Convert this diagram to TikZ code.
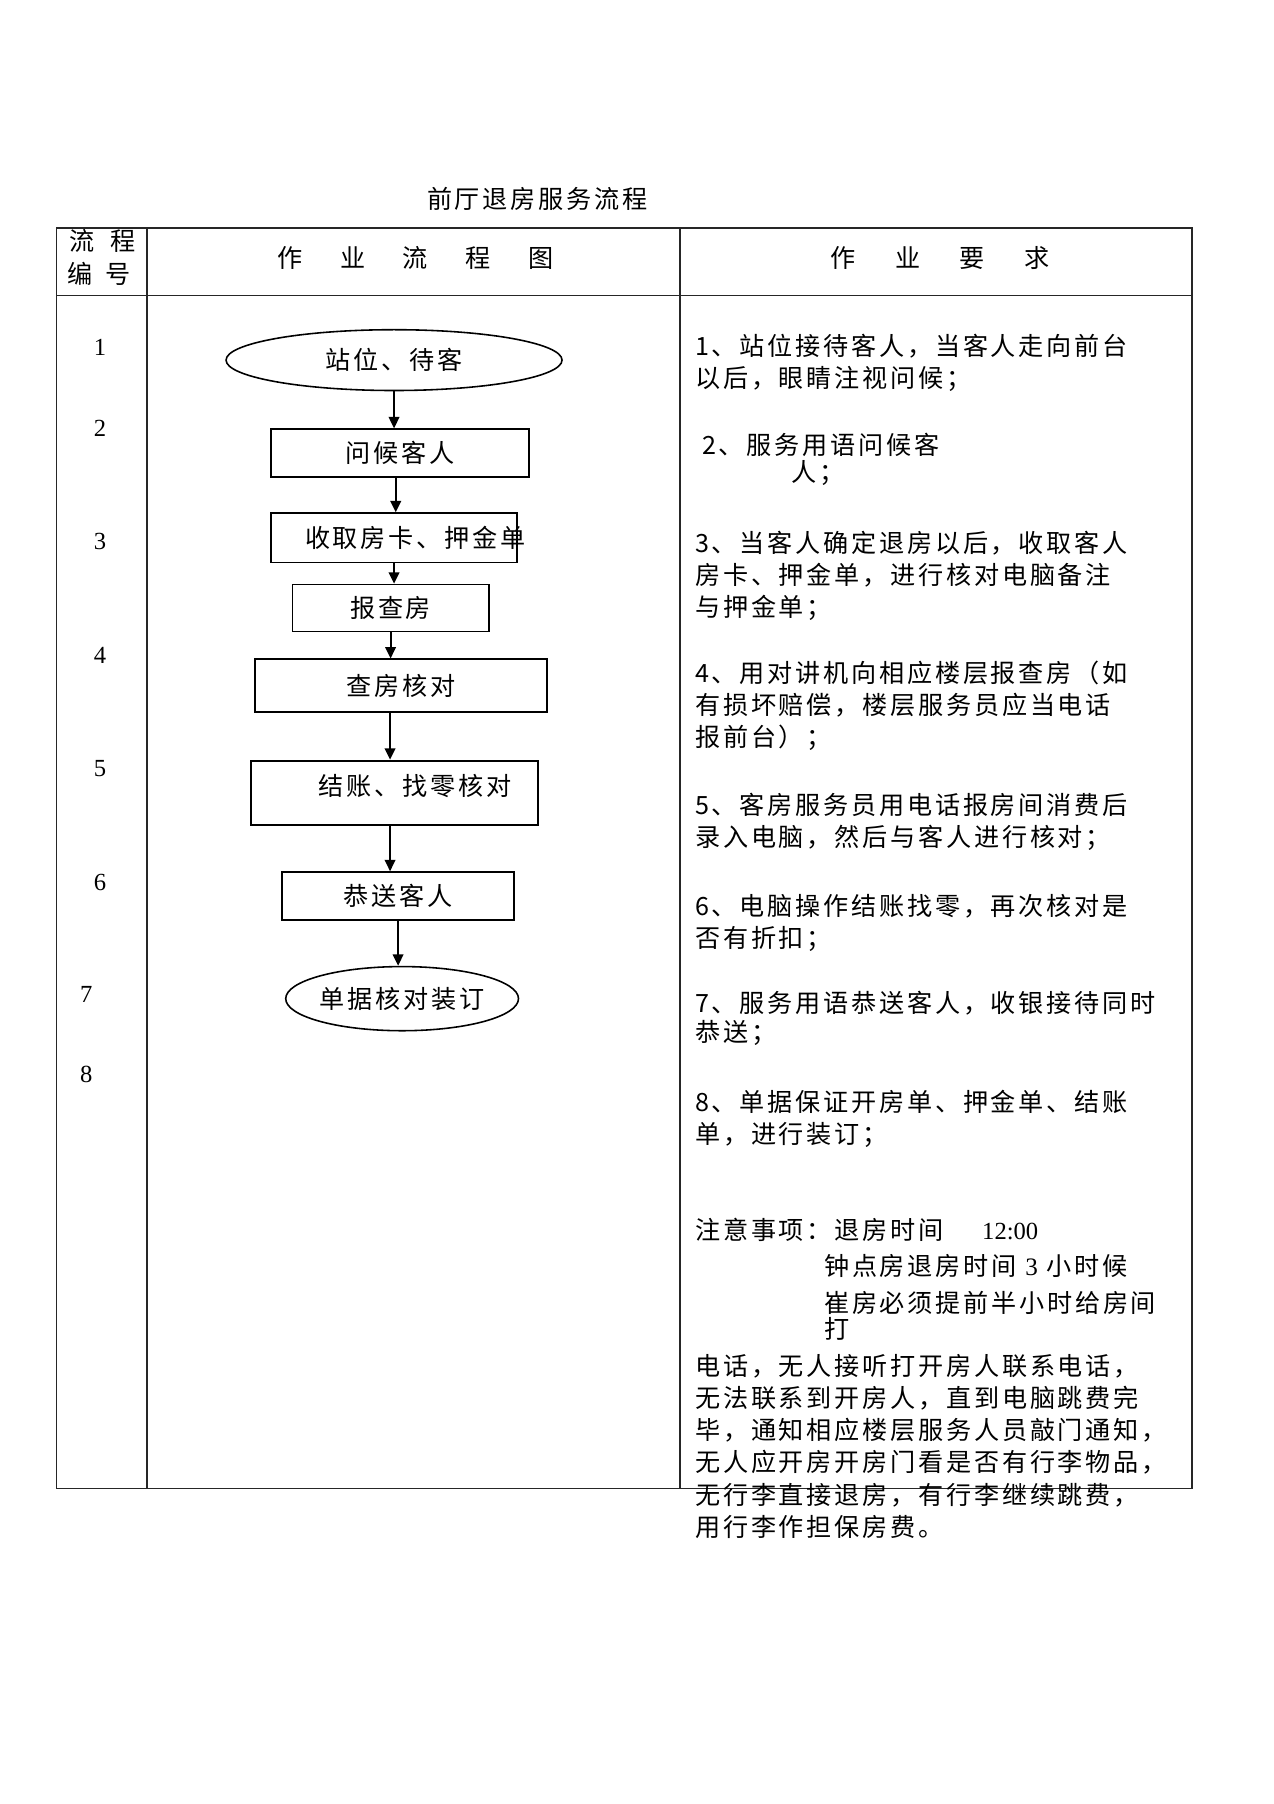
\documentclass[tikz,border=0pt]{standalone}
\usepackage{fontspec}
\usepackage{tikz}
\usetikzlibrary{arrows.meta,shapes.geometric}
\newfontfamily\cjk[LetterSpace=11]{Noto Sans CJK SC}
\newfontfamily\numfont{Liberation Serif}

\begin{document}
\begin{tikzpicture}[x=0.023017cm,y=-0.023017cm,
    txt/.style={inner sep=0pt,font=\cjk\fontsize{14.3pt}{18.27pt}\selectfont},
    para/.style={txt,anchor=north west,align=left},
    num/.style={inner sep=0pt,font=\numfont\fontsize{14pt}{16pt}\selectfont},
    box/.style={draw,line width=1pt,rectangle,txt},
    oval/.style={draw,line width=0.9pt,ellipse,txt},
    arr/.style={line width=1.2pt,-{Triangle[length=6.5pt,width=6pt]}},
    frame/.style={line width=0.8pt,black!85}]
    \useasboundingbox (0,0) rectangle (1107,1568);
    % table frame
    \draw[frame] (49,198) rectangle (1036,1294);
    \draw[frame] (49,257) -- (1036,257);
    \draw[frame,line width=1.1pt] (128,198) -- (128,1294);
    \draw[frame] (591,198) -- (591,1294);
    \node[txt] (title) at (467,173) {前厅退房服务流程};
    \node[txt] (hnum1) at (89,209) {流\hspace{9pt}程};
    \node[txt] (hnum2) at (86,238) {编\hspace{7pt}号};
    \node[txt] (hflow) at (361,224) {作\hspace{21.4pt}业\hspace{21.4pt}流\hspace{21.4pt}程\hspace{21.4pt}图};
    \node[txt] (hreq) at (817,224) {作\hspace{22.4pt}业\hspace{22.4pt}要\hspace{22.4pt}求};
    % step numbers
    \node[num] (n1) at (87,302) {1};
    \node[num] (n2) at (87,372) {2};
    \node[num] (n3) at (87,471) {3};
    \node[num] (n4) at (87,570) {4};
    \node[num] (n5) at (87,668) {5};
    \node[num] (n6) at (87,767) {6};
    \node[num] (n7) at (75,864) {7};
    \node[num] (n8) at (75,934) {8};
    % flow chart
    \node[oval,minimum width=191.2pt,minimum height=34.6pt] (start) at (342.5,313) {站位、待客};
    \node[box,minimum width=146.8pt,minimum height=27.4pt] (greet) at (347.5,394) {问候客人};
    \node[box,minimum width=140.3pt,minimum height=28.1pt,
      label={[txt,name=collecttext,xshift=12.1pt]center:收取房卡、押金单}] (collect) at (342.5,467.5) {};
    \node[box,minimum width=111.6pt,minimum height=26.7pt] (check) at (339.5,528.5) {报查房};
    \node[box,minimum width=166.4pt,minimum height=30pt] (verify) at (348.5,596) {查房核对};
    \node[box,minimum width=163.1pt,minimum height=36.5pt,
      label={[txt,name=settletext,xshift=11.7pt,yshift=3.9pt]center:结账、找零核对}] (settle) at (343,689) {};
    \node[box,minimum width=131.8pt,minimum height=27.4pt] (farewell) at (346,779) {恭送客人};
    \node[oval,minimum width=132.4pt,minimum height=36.5pt] (bind) at (349.5,868) {单据核对装订};
    \draw[arr] (start.south) -- (start.south |- greet.north);
    \draw[arr] ([xshift=-2.3pt]greet.south) -- ([xshift=-2.3pt]greet.south |- collect.north);
    \draw[arr] (collect.south) -- (collect.south |- check.north);
    \draw[arr] (check.south) -- (check.south |- verify.north);
    \draw[arr] ([xshift=-6.2pt]verify.south) -- ([xshift=-6.2pt]verify.south |- settle.north);
    \draw[arr] ([xshift=-2.6pt]settle.south) -- ([xshift=-2.6pt]settle.south |- farewell.north);
    \draw[arr] (farewell.south) -- (farewell.south |- bind.north);
    % requirements
    \node[para] (p1) at (604,290) {1、站位接待客人，当客人走向前台\\以后，眼睛注视问候；};
    \node[para] (p2) at (610,376) {2、服务用语问候客\\[-2.6pt]\hspace*{50.9pt}人；};
    \node[para] (p3) at (604,461) {3、当客人确定退房以后，收取客人\\房卡、押金单，进行核对电脑备注\\与押金单；};
    \node[para] (p4) at (604,574) {4、用对讲机向相应楼层报查房（如\\有损坏赔偿，楼层服务员应当电话\\报前台）；};
    \node[para] (p5) at (604,689) {5、客房服务员用电话报房间消费后\\录入电脑，然后与客人进行核对；};
    \node[para] (p6) at (604,777) {6、电脑操作结账找零，再次核对是\\否有折扣；};
    \node[para] (p7) at (604,861) {7、服务用语恭送客人，收银接待同时\\[-1.5pt]恭送；};
    \node[para] (p8) at (604,947) {8、单据保证开房单、押金单、结账\\单，进行装订；};
    \node[txt,anchor=west] (note1) at (604,1069) {注意事项：退房时间\hspace{22pt}{\numfont\fontsize{14pt}{16pt}\selectfont 12:00}};
    \node[para] (note2) at (716,1090) {钟点房退房时间\hspace{5pt}{\numfont 3}\hspace{5pt}小时候\\[2.6pt]崔房必须提前半小时给房间\\[-3.3pt]打};
    \node[para] (note3) at (604,1177) {电话，无人接听打开房人联系电话，\\无法联系到开房人，直到电脑跳费完\\毕，通知相应楼层服务人员敲门通知，\\无人应开房开房门看是否有行李物品，\\无行李直接退房，有行李继续跳费，\\用行李作担保房费。};
\end{tikzpicture}
\end{document}
